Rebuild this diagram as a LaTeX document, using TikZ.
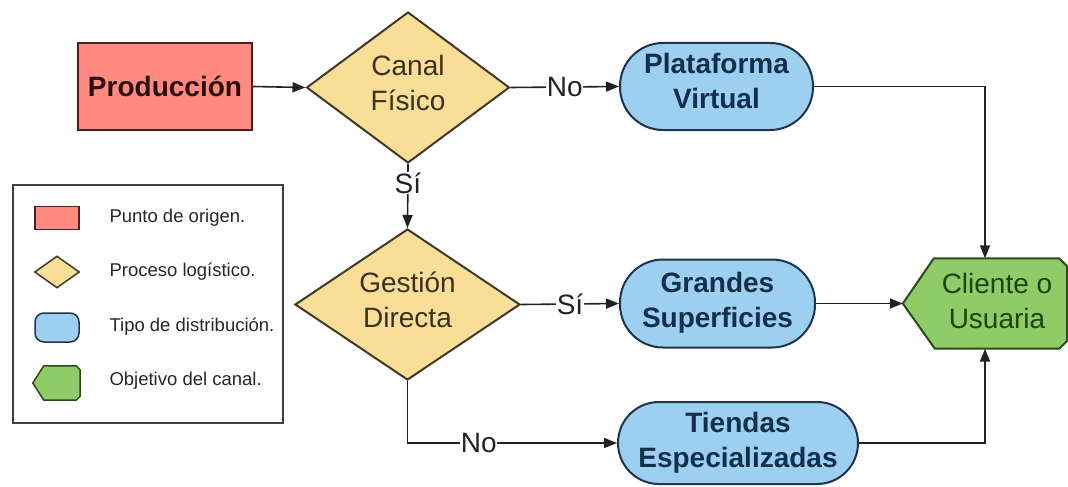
\documentclass[tikz,border=0pt]{standalone}
\usepackage{fontspec}
\setmainfont{Liberation Sans}
\usetikzlibrary{shapes.geometric,arrows.meta,calc}
\definecolor{redfill}{HTML}{FF8A80}
\definecolor{redline}{HTML}{4A2020}
\definecolor{redtext}{HTML}{2A0E0E}
\definecolor{yelfill}{HTML}{FADD96}
\definecolor{yelline}{HTML}{3E3A2A}
\definecolor{yeltext}{HTML}{3A3220}
\definecolor{bluefill}{HTML}{9DCFF0}
\definecolor{blueline}{HTML}{1E344E}
\definecolor{bluetext}{HTML}{12304C}
\definecolor{grnfill}{HTML}{8FCB66}
\definecolor{grnline}{HTML}{2C4A1C}
\definecolor{grntext}{HTML}{1C4410}
\definecolor{conn}{HTML}{222222}
\newcommand{\txtup}[1]{\rule[-#1]{0pt}{0pt}}
\tikzset{
  big/.style={font=\fontsize{28pt}{35pt}\selectfont},
  origin/.style={draw=redline, fill=redfill, line width=2pt, text=redtext, font=\fontsize{28pt}{35pt}\selectfont\bfseries},
  decision/.style={diamond, draw=yelline, fill=yelfill, line width=2pt, inner sep=0pt},
  dectext/.style={big, text=yeltext, align=center, yshift=5pt},
  distrib/.style={rectangle, draw=blueline, fill=bluefill, line width=2pt, text=bluetext, align=center, font=\fontsize{28pt}{35pt}\selectfont\bfseries, inner sep=0pt},
  arr/.style={draw=conn, line width=1.6pt, -{Triangle[length=13pt,width=10pt]}},
  lab/.style={fill=white, inner sep=0.8pt, text=conn, big},
  legtext/.style={anchor=west, text=black!85, font=\fontsize{18.5pt}{22pt}\selectfont},
}
\begin{document}
\begin{tikzpicture}[x=1pt,y=-1pt]
\useasboundingbox (0,0) rectangle (1068,487);
% main nodes
\node[origin, minimum width=174pt, minimum height=87pt, inner sep=0pt] (prod) at (165,86.5) {Producción};
\node[decision, minimum width=203pt, minimum height=151pt, label={[dectext]center:Canal\\Físico}] (canal) at (408,87.5) {};
\node[distrib, minimum width=193pt, minimum height=87pt, rounded corners=43pt] (plat) at (716.5,86.5) {Plataforma\\Virtual\txtup{12pt}};
\node[decision, minimum width=225pt, minimum height=151pt, label={[dectext]center:Gestión\\Directa}] (gest) at (407.5,304.5) {};
\node[distrib, minimum width=195pt, minimum height=88pt, rounded corners=43pt] (gran) at (717.5,303.5) {Grandes\\Superficies\txtup{8pt}};
\node[distrib, minimum width=240pt, minimum height=82pt, rounded corners=41pt] (tien) at (738,443) {Tiendas\\Especializadas\txtup{2pt}};
% client shape
\node[minimum width=164pt, minimum height=90pt, inner sep=0pt] (cli) at (985,303.5) {};
\draw[draw=grnline, fill=grnfill, line width=2pt, line join=round]
  (cli.west) -- ($(cli.north west)+(31,0)$) -- ($(cli.north east)+(-8,0)$) -- ($(cli.north east)+(0,8)$)
  -- ($(cli.south east)+(0,-8)$) -- ($(cli.south east)+(-8,0)$) -- ($(cli.south west)+(32,0)$) -- cycle;
\node[big, text=grntext, align=center] (clitext) at ($(cli.center)+(12,-3)$) {Cliente o\\Usuaria};
% connectors
\draw[arr] (prod.east) -- (canal.west);
\draw[arr] (canal.east) -- node[lab]{No} (plat.west);
\draw[arr] (canal.south) -- node[lab, pos=0.3]{Sí} (gest.north);
\draw[arr] (gest.east) -- node[lab]{Sí} (gran.west);
\draw[arr] (gest.south) |- node[lab, pos=0.67]{No} (tien.west);
\draw[arr] (plat.east) -| (cli.north);
\draw[arr] (gran.east) -- (cli.west);
\draw[arr] (tien.east) -| (cli.south);
% legend
\node[draw=black!75, line width=2pt, minimum width=270pt, minimum height=238pt, inner sep=0pt] (legend) at (148,304) {};
\node[draw=redline, fill=redfill, line width=1.5pt, minimum width=44pt, minimum height=23pt, inner sep=0pt] (lg1) at (57,218) {};
\node[legtext] (lt1) at (106,218) {Punto de origen.};
\node[diamond, draw=yelline, fill=yelfill, line width=1.5pt, minimum width=45pt, minimum height=32pt, inner sep=0pt] (lg2) at (57,272) {};
\node[legtext] (lt2) at (106,272) {Proceso logístico.};
\node[draw=blueline, fill=bluefill, line width=1.5pt, minimum width=44pt, minimum height=29pt, rounded corners=9pt, inner sep=0pt] (lg3) at (57,327.5) {};
\node[legtext] (lt3) at (106,327) {Tipo de distribución.};
\node[minimum width=47pt, minimum height=34pt, inner sep=0pt] (lg4) at (56.5,383) {};
\draw[draw=grnline, fill=grnfill, line width=1.5pt, line join=round]
  (lg4.west) -- ($(lg4.north west)+(11,0)$) -- ($(lg4.north east)+(-4,0)$) -- ($(lg4.north east)+(0,4)$)
  -- ($(lg4.south east)+(0,-4)$) -- ($(lg4.south east)+(-4,0)$) -- ($(lg4.south west)+(11,0)$) -- cycle;
\node[legtext] (lt4) at (106,381) {Objetivo del canal.};
\end{tikzpicture}
\end{document}
